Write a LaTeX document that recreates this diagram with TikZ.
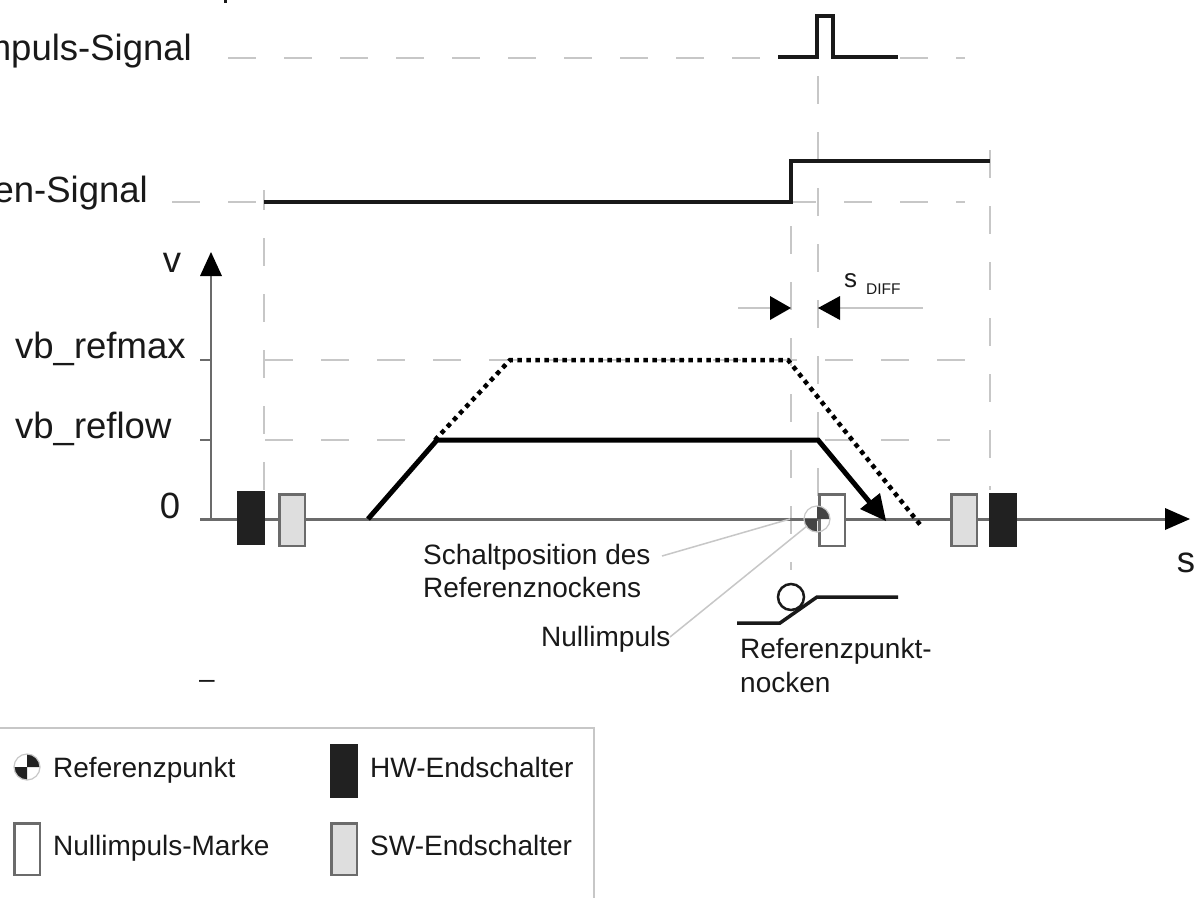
\documentclass[tikz,border=0pt]{standalone}
\usepackage{fontspec}
\setmainfont{Liberation Sans}
\usetikzlibrary{arrows.meta}
\definecolor{guide}{gray}{0.78}
\definecolor{axisc}{gray}{0.42}
\definecolor{hwc}{gray}{0.13}
\definecolor{swc}{gray}{0.87}
\definecolor{ink}{gray}{0.1}
\tikzset{
 guideline/.style={draw=guide,line width=2.2pt,dash pattern=on 28pt off 28pt},
 sig/.style={draw=ink,line width=4.5pt,line join=miter},
 leader/.style={draw=guide,line width=1.5pt},
 big/.style={font=\fontsize{36.5}{36.5}\selectfont,text=ink,inner sep=0pt},
 small/.style={font=\fontsize{28}{28}\selectfont,text=ink,inner sep=0pt},
 hwbox/.style={fill=hwc,draw=hwc,line width=2.5pt,minimum width=25.5pt,minimum height=51.5pt,inner sep=0pt},
 swbox/.style={fill=swc,draw=axisc,line width=2.5pt,minimum width=25.5pt,minimum height=51.5pt,inner sep=0pt},
 markbox/.style={fill=white,draw=axisc,line width=2.5pt,minimum width=25.5pt,minimum height=51.5pt,inner sep=0pt},
}
\begin{document}
\begin{tikzpicture}[x=1pt,y=-1pt]
\useasboundingbox (0,0) rectangle (1200,898);
\clip (0,0) rectangle (1200,898);
\fill[white] (0,0) rectangle (1200,898);
% clipped title fragment
\draw[ink,line width=3pt] (225,0) -- (225,3);
% guides
\draw[guideline] (228,58) -- (965,58);
\draw[guideline] (172,202) -- (965,202);
\draw[guideline] (265,360) -- (965,360);
\draw[guideline] (265,440) -- (950,440);
\draw[guideline,dash phase=8pt] (264,190) -- (264,490);
\draw[guideline] (791,170) -- (791,570);
\draw[guideline] (818,20) -- (818,500);
\draw[guideline] (990,150) -- (990,490);
% signals
\draw[sig] (778,57) -- (817,57) -- (817,16) -- (833,16) -- (833,57) -- (898,57);
\draw[sig] (264,202) -- (791,202) -- (791,161) -- (990,161);
% axes
\coordinate (origin) at (211,519);
\coordinate (vtip) at (211,252);
\coordinate (stip) at (1190,519);
\draw[axisc,line width=3pt] (200,519) -- (1170,519);
\draw[axisc,line width=2.5pt] (origin) -- (211,272);
\fill[black] (vtip) -- (222,276) -- (200,276) -- cycle;
\fill[black] (stip) -- (1165,508) -- (1165,530) -- cycle;
\draw[axisc,line width=2pt] (200,360) -- (211,360) (200,440) -- (211,440);
% speed curves
\draw[black,line width=4.5pt,dash pattern=on 4.5pt off 4.5pt] (435,440) -- (510,360) -- (788,360) -- (922,527);
\draw[black,line width=5pt,line join=miter] (368,519) -- (437,440) -- (818,440) -- (872,505);
\fill[black] (886,521) -- (860,509) -- (880,493) -- cycle;
% boxes on axis
\node[hwbox] (hw1) at (251,518) {};
\node[swbox] (sw1) at (292,520) {};
\node[markbox] (mark) at (832,520) {};
\node[swbox] (sw2) at (964,520) {};
\node[hwbox] (hw2) at (1003,520) {};
% reference point
\fill[hwc!85!white] (817,519) -- (817,506) arc[start angle=90,end angle=0,radius=13pt] -- cycle;
\fill[hwc!85!white] (817,519) -- (817,532) arc[start angle=270,end angle=180,radius=13pt] -- cycle;
\node[circle,draw=guide,line width=1.2pt,minimum size=26pt,inner sep=0pt] (refp) at (817,519) {};
% cam
\draw[sig,line width=3.5pt] (737,623) -- (780,623) -- (817,597) -- (898,597);
\node[circle,draw=ink,line width=2.5pt,minimum size=26pt,inner sep=0pt] (roller) at (791,597) {};
% sdiff
\coordinate (dl) at (738,308);
\coordinate (dr) at (923,308);
\draw[guide,line width=2pt] (dl) -- (772,308) (838,308) -- (dr);
\fill[black] (791,308) -- (770,296) -- (770,320) -- cycle;
\fill[black] (818,308) -- (840,296) -- (840,320) -- cycle;
\node[anchor=base west,font=\fontsize{26}{26}\selectfont,text=ink,inner sep=0pt] (sd) at (844,287) {s};
\node[anchor=base west,font=\fontsize{15.5}{15.5}\selectfont,text=ink,inner sep=0pt] (diff) at (866,294) {DIFF};
% labels
\node[big,anchor=base east] (imp) at (192,60) {mpuls-Signal};
\node[big,anchor=base east] (nock) at (148,202) {en-Signal};
\node[big,anchor=base] (vl) at (172,272) {v};
\node[big,anchor=base west] (vmax) at (15,358) {vb\_refmax};
\node[big,anchor=base west] (vlow) at (15,438) {vb\_reflow};
\node[big,anchor=base] (zero) at (170,518) {0};
\node[big,anchor=base] (sl) at (1186,572) {s};
\node[small,anchor=base west] (schalt) at (423,564) {Schaltposition des};
\node[small,anchor=base west] (refn) at (423,597) {Referenznockens};
\node[small,anchor=base west] (nulli) at (541,646) {Nullimpuls};
\node[small,anchor=base west] (rpn) at (740,658) {Referenzpunkt-};
\node[small,anchor=base west] (nck) at (740,692) {nocken};
\node[small,anchor=base] (dash) at (207,688) {–};
% leaders
\coordinate (ls) at (662,556);
\coordinate (ln) at (670,637);
\draw[leader] (ls) -- (790,519);
\draw[leader] (ln) -- (807,526);
% legend
\coordinate (la) at (0,728);
\coordinate (lb) at (594,728);
\coordinate (lc) at (594,898);
\draw[guide,line width=2pt] (la) -- (lb) -- (lc);
\fill[hwc] (27,767) -- (27,754) arc[start angle=90,end angle=0,radius=13pt] -- cycle;
\fill[hwc] (27,767) -- (27,780) arc[start angle=270,end angle=180,radius=13pt] -- cycle;
\node[circle,draw=guide,line width=1.2pt,minimum size=26pt,inner sep=0pt] (lref) at (27,767) {};
\node[markbox] (lmark) at (27,849) {};
\node[hwbox] (lhw) at (344,771) {};
\node[swbox] (lsw) at (344,849) {};
\node[small,anchor=base west] (t1) at (53,777) {Referenzpunkt};
\node[small,anchor=base west] (t2) at (53,855) {Nullimpuls-Marke};
\node[small,anchor=base west] (t3) at (370,777) {HW-Endschalter};
\node[small,anchor=base west] (t4) at (370,855) {SW-Endschalter};
\end{tikzpicture}
\end{document}
